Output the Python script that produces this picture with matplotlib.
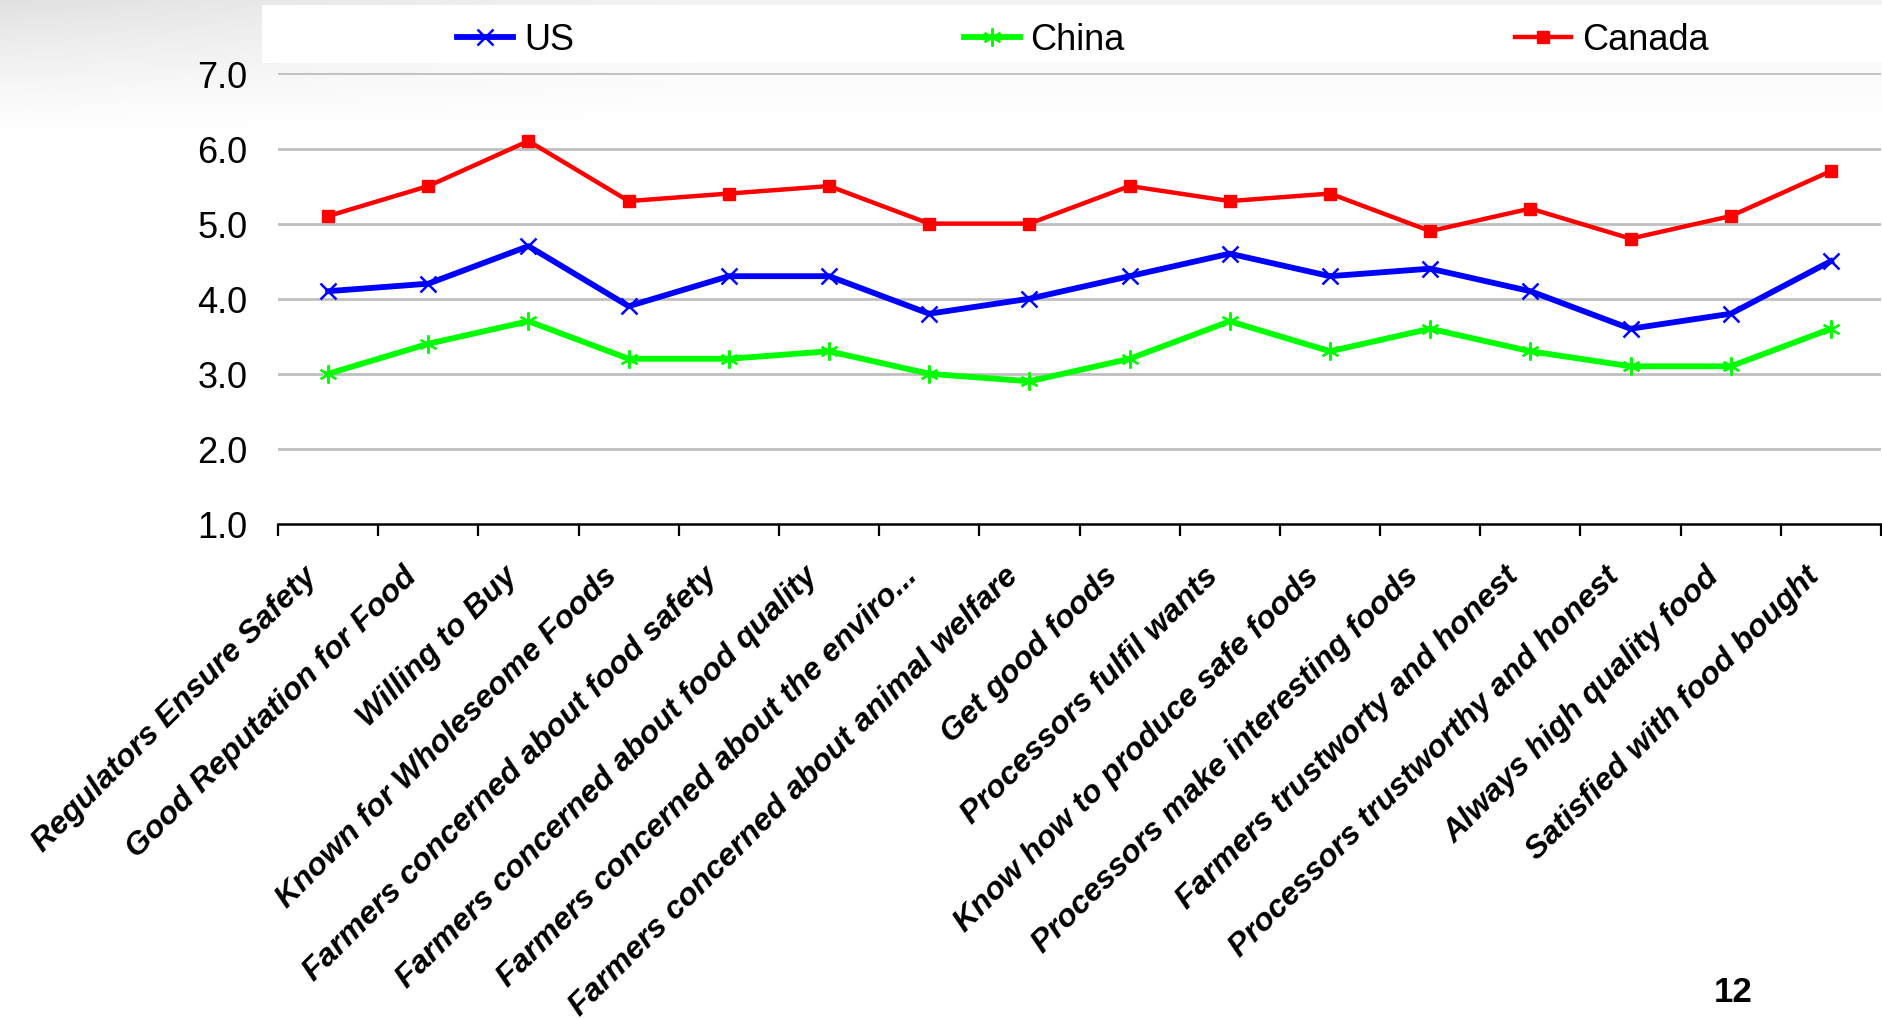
import numpy as np
import matplotlib
matplotlib.use("Agg")
import matplotlib.pyplot as plt
from matplotlib.patches import Rectangle
from matplotlib.ticker import FixedLocator
from matplotlib.transforms import ScaledTranslation

plt.rcParams['font.family'] = ['Liberation Sans', 'DejaVu Sans']

categories = [
    "Regulators Ensure Safety",
    "Good Reputation for Food",
    "Willing to Buy",
    "Known for Wholeseome Foods",
    "Farmers concerned about food safety",
    "Farmers concerned about food quality",
    "Farmers concerned about the enviro...",
    "Farmers concerned about animal welfare",
    "Get good foods",
    "Processors fulfil wants",
    "Know how to produce safe foods",
    "Processors make interesting foods",
    "Farmers trustworty and honest",
    "Processors trustworthy and honest",
    "Always high quality food",
    "Satisfied with food bought",
]
us = [4.1, 4.2, 4.7, 3.9, 4.3, 4.3, 3.8, 4.0, 4.3, 4.6, 4.3, 4.4, 4.1, 3.6, 3.8, 4.5]
china = [3.0, 3.4, 3.7, 3.2, 3.2, 3.3, 3.0, 2.9, 3.2, 3.7, 3.3, 3.6, 3.3, 3.1, 3.1, 3.6]
canada = [5.1, 5.5, 6.1, 5.3, 5.4, 5.5, 5.0, 5.0, 5.5, 5.3, 5.4, 4.9, 5.2, 4.8, 5.1, 5.7]
yticks = [1.0, 2.0, 3.0, 4.0, 5.0, 6.0, 7.0]

W, H = 1882, 1020
fig = plt.figure(figsize=(W / 100, H / 100), dpi=100)
fig.patch.set_facecolor("white")

# soft grey slide backdrop fading out towards the bottom
bg = fig.add_axes([0, 0, 1, 1], zorder=-10)
gy, gx = np.mgrid[0:H:4, 0:W:4]
fade_y = np.clip(1 - gy / 140.0, 0, 1) ** 1.3
side = 0.05 + 0.07 * np.clip(1 - gx / 700.0, 0, 1)
shade = 1 - side * fade_y
bg.imshow(shade, cmap="gray", vmin=0, vmax=1, aspect="auto",
          extent=[0, 1, 0, 1], interpolation="bilinear")
bg.set_axis_off()

# white strip holding the legend
fig.patches.append(Rectangle((262 / W, 1 - 64 / H), 1 - 262 / W, 58 / H,
                             transform=fig.transFigure, facecolor="white",
                             edgecolor="none", zorder=1))

ax = fig.add_axes([278 / W, 1 - 525 / H, 1603 / W, (525 - 74.4) / H])
ax.set_facecolor("none")

x = np.arange(1, len(categories) + 1)
l_us, = ax.plot(x, us, color="#0000FF", lw=4.2, marker="x", ms=11, mew=1.8,
                label="US", zorder=3)
l_cn, = ax.plot(x, china, color="#00FF00", lw=4.2, marker=(6, 2, 0), ms=13,
                mew=1.6, label="China", zorder=3)
l_ca, = ax.plot(x, canada, color="#FF0000", lw=3.2, marker="s", ms=9,
                label="Canada", zorder=3)

ax.set_xlim(0.5, len(categories) + 0.5)
ax.set_ylim(1, 7)
ax.set_yticks(yticks)
ax.set_yticklabels([f"{v:.1f}" for v in yticks], fontsize=26)
ax.tick_params(axis="y", length=0, pad=22)

# category labels hang below the axis, rotated 45 degrees
ax.set_xticks(x)
ax.set_xticklabels([])
ax.tick_params(axis="x", which="major", length=0)
shift = ScaledTranslation(-0.16, -0.47, fig.dpi_scale_trans)
for xi, name in zip(x, categories):
    ax.text(xi, 0, name, transform=ax.get_xaxis_transform() + shift,
            fontsize=23, fontweight="bold", style="italic",
            rotation=45, ha="right", va="center", rotation_mode="anchor")

ax.xaxis.set_minor_locator(FixedLocator(np.arange(0.5, len(categories) + 1, 1)))
ax.tick_params(axis="x", which="minor", length=8.5, width=1.6, direction="out",
               color="black")

for v in yticks[1:]:
    ax.axhline(v, color="#BFBFBF", lw=2.0, zorder=1)

for s in ("left", "right", "top"):
    ax.spines[s].set_visible(False)
ax.spines["bottom"].set_linewidth(1.8)
ax.spines["bottom"].set_color("black")

leg = fig.legend(handles=[l_us, l_cn, l_ca], loc="center left",
                 bbox_to_anchor=(457 / W, 1 - 41 / H), ncol=3, frameon=False,
                 fontsize=26, handlelength=1.55, handletextpad=0.3,
                 columnspacing=10.8, borderpad=0, borderaxespad=0)
leg.set_zorder(5)

fig.text(1733 / W, 1 - 993 / H, "12", fontsize=25, fontweight="bold",
         ha="center", va="center")

fig.savefig("out.png", dpi=100)
